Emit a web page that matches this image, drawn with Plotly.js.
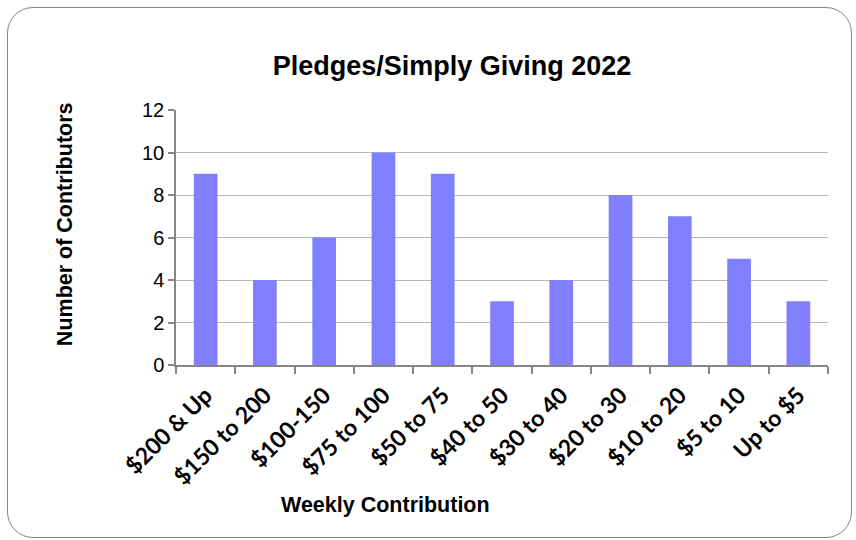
<!DOCTYPE html>
<html>
<head>
<meta charset="utf-8">
<script src="https://cdn.plot.ly/plotly-3.0.1.min.js"></script>
<style>
  html, body { margin: 0; padding: 0; background: #fff; }
  #wrap { position: relative; width: 856px; height: 540px; }
  #chart { position: absolute; left: 0; top: 0; width: 856px; height: 540px; }
  #frame { position: absolute; left: 7px; top: 7px; width: 843px; height: 529px;
           border: 1.5px solid #858585; border-radius: 26px; pointer-events: none; }
</style>
</head>
<body>
<div id="wrap">
  <div id="chart"></div>
  <div id="frame"></div>
</div>
<script>
const categories = ["$200 & Up", "$150 to 200", "$100-150", "$75 to 100", "$50 to 75",
                    "$40 to 50", "$30 to 40", "$20 to 30", "$10 to 20", "$5 to 10", "Up to $5"];
const contributors = [9, 4, 6, 10, 9, 3, 4, 8, 7, 5, 3];
const yTicks = [0, 2, 4, 6, 8, 10, 12];

const trace = {
  type: "bar",
  x: categories,
  y: contributors,
  marker: { color: "#8080FF" },
  hoverinfo: "x+y"
};

const titleFont = { family: "Liberation Sans, Arial, sans-serif", size: 21.5, color: "#000" };

const layout = {
  width: 856,
  height: 540,
  margin: { l: 176, r: 28, t: 110, b: 175 },
  paper_bgcolor: "rgba(0,0,0,0)",
  plot_bgcolor: "rgba(0,0,0,0)",
  bargap: 0.6,
  showlegend: false,
  title: {
    text: "<b>Pledges/Simply Giving 2022</b>",
    font: { family: "Liberation Sans, Arial, sans-serif", size: 27, color: "#000" },
    x: 0.528, xanchor: "center",
    y: 0.878, yanchor: "middle"
  },
  xaxis: {
    type: "category",
    tickson: "boundaries",
    ticks: "outside",
    ticklen: 7,
    tickcolor: "#868686",
    tickwidth: 1.5,
    showline: true,
    linecolor: "#868686",
    linewidth: 1.5,
    showgrid: false,
    tickangle: -45,
    ticklabelstandoff: 6,
    tickfont: { family: "Lato, Calibri, sans-serif", size: 23, color: "#000", weight: "bold" },
    automargin: false
  },
  yaxis: {
    range: [0, 12],
    tickvals: yTicks,
    ticktext: yTicks.map(String),
    ticks: "outside",
    ticklen: 6,
    tickcolor: "#868686",
    tickwidth: 1.5,
    showline: true,
    linecolor: "#868686",
    linewidth: 1.5,
    showgrid: true,
    gridcolor: "#b8b8b8",
    gridwidth: 1.2,
    zeroline: false,
    tickfont: { family: "Liberation Sans, Arial, sans-serif", size: 20, color: "#000" },
    automargin: false
  },
  annotations: [
    {
      text: "<b>Weekly Contribution</b>",
      xref: "paper", yref: "paper",
      x: 0.322, y: -0.549,
      xanchor: "center", yanchor: "middle",
      showarrow: false,
      font: titleFont
    },
    {
      text: "<b>Number of Contributors</b>",
      xref: "paper", yref: "paper",
      x: -0.170, y: 0.553,
      xanchor: "center", yanchor: "middle",
      textangle: -90,
      showarrow: false,
      font: titleFont
    }
  ]
};

Plotly.newPlot("chart", [trace], layout, { displayModeBar: false });
</script>
</body>
</html>
